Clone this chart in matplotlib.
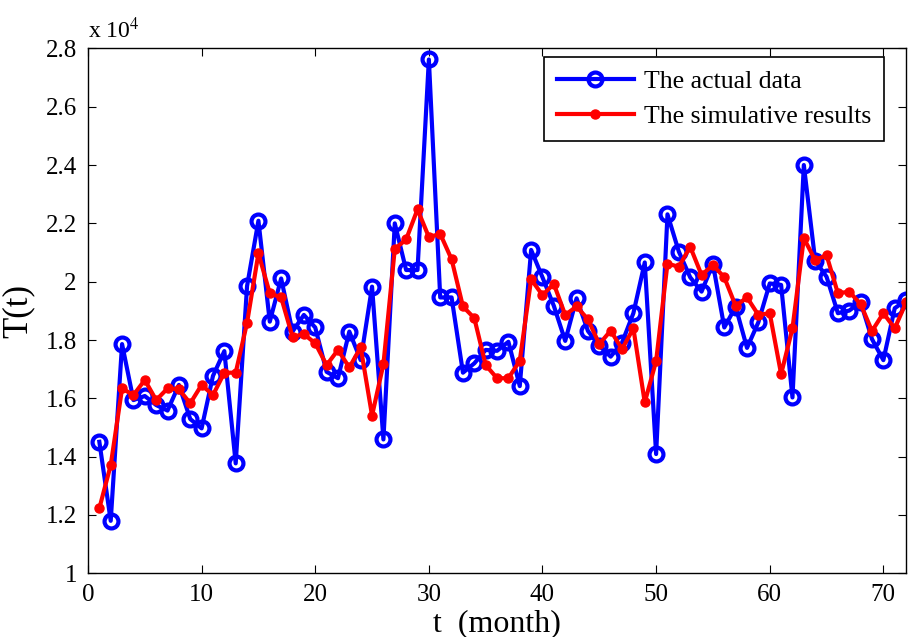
import numpy as np
import matplotlib
matplotlib.use('Agg')
import matplotlib.pyplot as plt
from matplotlib.ticker import FuncFormatter

plt.rcParams['font.family'] = ['Liberation Serif', 'DejaVu Serif']
plt.rcParams['mathtext.fontset'] = 'stix'

# months 1..72
months = np.arange(1, 73)

# The actual data
actual = [14510, 11800, 17860, 15940, 16080, 15770, 15580, 16460, 15290, 14970,
          16770, 17620, 13770, 19850, 22090, 18630, 20110, 18290, 18860, 18430,
          16910, 16690, 18290, 17310, 19830, 14590, 22000, 20400, 20400, 27620,
          19460, 19460, 16880, 17200, 17660, 17630, 17940, 16420, 21090, 20150,
          19170, 17970, 19430, 18310, 17800, 17430, 17910, 18920, 20660, 14090,
          22310, 21030, 20150, 19660, 20610, 18430, 19140, 17730, 18610, 19940,
          19890, 16030, 24000, 20720, 20170, 18920, 19010, 19300, 18030, 17310,
          19090, 19370]

# The simulative results
simulated = [12230, 13710, 16340, 16110, 16630, 15940, 16340, 16310, 15830, 16460,
             16110, 16880, 16880, 18590, 20970, 19600, 19460, 18110, 18200, 17890,
             17140, 17660, 17060, 17750, 15410, 17170, 21120, 21450, 22480, 21530,
             21640, 20770, 19150, 18750, 17140, 16690, 16690, 17290, 20080, 19540,
             19920, 18860, 19150, 18710, 17860, 18320, 17690, 18400, 15860, 17280,
             20620, 20510, 21200, 20230, 20570, 20150, 19170, 19460, 18860, 18920,
             16830, 18400, 21490, 20740, 20910, 19600, 19660, 19230, 18310, 18920,
             18400, 19290]

fig = plt.figure(figsize=(9.08, 6.37), dpi=100)
ax = fig.add_axes([0.0969, 0.100, 0.901, 0.824])

ax.plot(months, np.array(actual) / 1e4, color='#0000ff', lw=3, marker='o',
        ms=10, mfc='none', mew=3, label='The actual data')
ax.plot(months, np.array(simulated) / 1e4, color='#ff0000', lw=3, marker='o',
        ms=6.5, mfc='#ff0000', mec='#ff0000', label='The simulative results')

ax.set_xlim(0, 72)
ax.set_ylim(1, 2.8)
ax.set_xticks(np.arange(0, 71, 10))
ax.set_yticks(np.arange(1, 2.81, 0.2))
ax.yaxis.set_major_formatter(FuncFormatter(lambda v, p: '%g' % round(v, 1)))
ax.tick_params(direction='in', top=True, right=True, length=6, width=0.8,
               labelsize=18, pad=8)
for s in ax.spines.values():
    s.set_linewidth(1.0)

ax.set_xlabel('t  (month)', fontsize=23, labelpad=2)
ax.set_ylabel('T(t)', fontsize=25, labelpad=8)
ax.text(0, 1.01, r'x 10$^4$', transform=ax.transAxes, fontsize=17,
        ha='left', va='bottom')

leg = ax.legend(loc='upper right', bbox_to_anchor=(0.973, 0.983),
                borderaxespad=0, fontsize=18.5, fancybox=False, framealpha=1,
                edgecolor='black', handlelength=3.0, labelspacing=0.45,
                borderpad=0.5, handletextpad=0.4)
leg.get_frame().set_linewidth(1.2)

fig.savefig('out.png', dpi=100)
